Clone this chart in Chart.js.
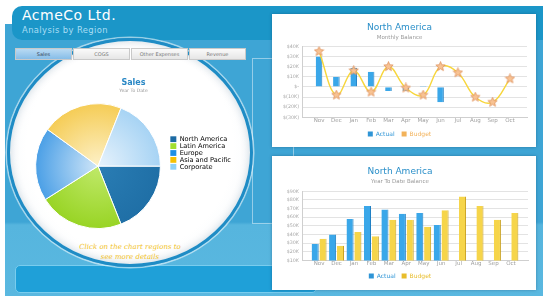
<!DOCTYPE html>
<html>
<head>
<meta charset="utf-8">
<script src="https://cdn.jsdelivr.net/npm/chart.js@4.4.1/dist/chart.umd.min.js"></script>
<style>
  html, body { margin: 0; padding: 0; width: 543px; height: 296px; overflow: hidden; background: #fff; font-family: "DejaVu Sans", sans-serif; }
  .abs { position: absolute; }
  #bg { left: 5px; top: 24px; width: 538px; height: 272px; background: linear-gradient(#3ea5d5 0, #3ea5d5 198px, #56b5de 201px, #5ab8e0 100%); }
  #head { left: 12px; top: 6px; width: 531px; height: 34px; background: #1b96c8; border-radius: 10px 0 0 10px; }
  #head .t1 { position: absolute; left: 10px; top: 1px; color: #fff; font-size: 14px; letter-spacing: 0.5px; }
  #head .t2 { position: absolute; left: 10px; top: 19px; color: #a9def5; font-size: 8.4px; letter-spacing: 0.4px; }
  #tabs { left: 15px; top: 48px; height: 11px; display: flex; z-index: 5; }
  #tabs div { width: 55px; height: 10px; margin-right: 1px; background: linear-gradient(#fafafa, #e6e6e6); border: 0.5px solid #c9c9c9; font-size: 5px; line-height: 10px; text-align: center; color: #777; }
  #tabs div.on { background: linear-gradient(#b9daf3, #86bde8); color: #345; }
  #box { left: 252px; top: 58px; width: 40px; height: 164px; border: 1px solid rgba(255,255,255,0.45); }
  #circle { left: 7px; top: 38px; width: 240px; height: 223px; border-radius: 50%; border: 3px solid #1f8cc5;
            background: radial-gradient(circle at 50% 48%, #ffffff 0, #ffffff 62%, #edf3f7 100%);
            box-shadow: 0 0 0 1.5px rgba(255,255,255,0.55), inset 0 0 8px rgba(0,60,100,0.2); z-index: 2; }
  #hint { left: 30px; top: 242px; width: 200px; text-align: center; z-index: 3; color: #f2c11c; font-family: "DejaVu Serif", serif; font-style: italic; font-size: 7px; line-height: 10px; }
  #footer { left: 15px; top: 265px; width: 300px; height: 26px; background: #1fa0d8; border: 1px solid #79cdee; border-radius: 5px; }
  .panel { background: #fff; box-shadow: 0 0 3px rgba(0,40,80,0.35); z-index: 4; }
  #p1 { left: 272px; top: 14px; width: 264px; height: 133px; }
  #p2 { left: 272px; top: 156px; width: 264px; height: 134px; }
  #pieWrap { left: 20px; top: 74px; width: 221px; height: 156px; z-index: 3; }
</style>
</head>
<body>
<div id="bg" class="abs"></div>
<div id="head" class="abs"><div class="t1">AcmeCo Ltd.</div><div class="t2">Analysis by Region</div></div>
<div id="box" class="abs"></div>
<div id="footer" class="abs"></div>
<div id="circle" class="abs"></div>
<div id="tabs" class="abs"><div class="on">Sales</div><div>COGS</div><div>Other Expenses</div><div>Revenue</div></div>
<div id="pieWrap" class="abs"><canvas id="pie" width="221" height="156"></canvas></div>
<div id="hint" class="abs">Click on the chart regions to<br>see more details</div>
<div id="p1" class="abs panel"><canvas id="monthly" width="264" height="133"></canvas></div>
<div id="p2" class="abs panel"><canvas id="ytd" width="264" height="134"></canvas></div>

<script>
// ---- data ($K) ----
const regions = ['North America', 'Latin America', 'Europe', 'Asia and Pacific', 'Corporate'];
const regionSales = [19, 22, 19, 21, 19];

const months = ['Nov', 'Dec', 'Jan', 'Feb', 'Mar', 'Apr', 'May', 'Jun', 'Jul', 'Aug', 'Sep', 'Oct'];
const monthlyActual = [30, 10, 19, 15, -4, -4, 1, -15, null, null, null, null];
const monthlyBudget = [35, -8, 16, -5, 20, -1, -8, 20, 14, -10, -15, 8];
const monthlyTicks = [-30, -20, -10, 0, 10, 20, 30, 40];

const ytdActual = [29, 40, 58, 73, 69, 64, 65, 51, null, null, null, null];
const ytdBudget = [35, 27, 43, 38, 57, 57, 49, 68, 84, 73, 57, 65];
const ytdTicks = [10, 20, 30, 40, 50, 60, 70, 80, 90];

// ---- look ----
const FONT = '"DejaVu Sans", sans-serif';
Chart.defaults.font.family = FONT;
Chart.defaults.animation = false;

const pieInner = ['#2a7db4', '#c0e96a', '#d0e6f8', '#fdf1c8', '#e8f3fc'];
const pieOuter = ['#1f6fa6', '#98d424', '#4a9fe6', '#f5cc55', '#a6d3f4'];
const pieLegend = ['#1c6aa3', '#a2de2e', '#1e8fe6', '#f6c104', '#8fd1f6'];
const BLUE = '#3aa7e9';
const YELLOW = '#f6d54a';

const fmtK = v => v === 0 ? '$-' : (v < 0 ? '$(' + (-v) + 'K)' : '$' + v + 'K');
const toPoints = arr => arr.map((v, i) => ({ x: i, y: v }));

function makeStar(size, fill, stroke) {
  const c = document.createElement('canvas');
  c.width = c.height = size;
  const g = c.getContext('2d');
  const ro = size / 2 - 0.6, ri = ro * 0.45;
  g.beginPath();
  for (let i = 0; i < 10; i++) {
    const r = i % 2 ? ri : ro;
    const a = -Math.PI / 2 + i * Math.PI / 5;
    g.lineTo(size / 2 + r * Math.cos(a), size / 2 + r * Math.sin(a));
  }
  g.closePath();
  g.fillStyle = fill; g.fill();
  g.strokeStyle = stroke; g.lineWidth = 0.8; g.stroke();
  return c;
}
const star = makeStar(11, '#f8c394', '#e0915a');

// shared x axis: linear so months sit inset like the original
function monthAxis() {
  return {
    type: 'linear', min: -0.98, max: 11.98, offset: false,
    afterBuildTicks: s => { s.ticks = months.map((m, i) => ({ value: i })); },
    grid: { display: false, drawTicks: false },
    border: { color: '#cfcfcf' },
    ticks: { callback: v => months[v], color: '#a0a0a0', font: { size: 5.5 }, padding: 0, maxRotation: 0, autoSkip: false }
  };
}
function moneyAxis(ticks) {
  return {
    min: ticks[0], max: ticks[ticks.length - 1],
    afterBuildTicks: s => { s.ticks = ticks.map(v => ({ value: v })); },
    afterFit: s => { s.width = 30; },
    grid: { color: '#dcdcdc', lineWidth: 0.8, drawTicks: false },
    border: { color: '#cfcfcf' },
    ticks: { callback: fmtK, color: '#a8a8a8', font: { size: 4.8 }, padding: 3, autoSkip: false }
  };
}
function barLegend(pad) {
  return {
    position: 'bottom',
    labels: {
      boxWidth: 5, boxHeight: 5, padding: pad, font: { size: 6 },
      generateLabels: chart => chart.data.datasets.map((d, i) => ({
        text: d.label, fillStyle: d.legendColor, strokeStyle: d.legendColor, lineWidth: 0,
        fontColor: d.legendColor, datasetIndex: i, hidden: false
      }))
    }
  };
}

// ---- pie ----
new Chart(document.getElementById('pie'), {
  type: 'pie',
  data: {
    labels: regions,
    datasets: [{
      data: regionSales,
      backgroundColor: ctx => {
        const area = ctx.chart.chartArea;
        if (!area) return pieOuter[ctx.dataIndex];
        const cx = (area.left + area.right) / 2, cy = (area.top + area.bottom) / 2;
        const r = Math.min(area.right - area.left, area.bottom - area.top) / 2;
        const g = ctx.chart.ctx.createRadialGradient(cx, cy, 0, cx, cy, r);
        g.addColorStop(0, pieInner[ctx.dataIndex]);
        g.addColorStop(1, pieOuter[ctx.dataIndex]);
        return g;
      },
      borderColor: '#ffffff',
      borderWidth: 1
    }]
  },
  options: {
    responsive: false,
    rotation: 90,
    layout: { padding: { left: 6, top: 3, bottom: 1 } },
    plugins: {
      title: { display: true, text: 'Sales', color: '#2a88c5', font: { size: 8, weight: 'bold' }, padding: { top: 1, bottom: 0 } },
      subtitle: { display: true, text: 'Year To Date', color: '#999', font: { size: 4.6, lineHeight: 1 }, padding: { top: 1, bottom: 10 } },
      legend: {
        position: 'right',
        labels: {
          boxWidth: 6, boxHeight: 5.8, padding: 0.3, color: '#707070', font: { size: 6.6, lineHeight: 0.9 },
          generateLabels: chart => chart.data.labels.map((t, i) => ({
            text: t, fillStyle: pieLegend[i], strokeStyle: pieLegend[i], lineWidth: 0, index: i, hidden: false
          }))
        }
      },
      tooltip: { enabled: false }
    }
  }
});

// ---- monthly balance ----
new Chart(document.getElementById('monthly'), {
  data: {
    datasets: [
      {
        type: 'line', label: 'Budget', data: toPoints(monthlyBudget), legendColor: '#f2b25a',
        borderColor: '#f7d63c', borderWidth: 1.4, tension: 0.4,
        pointStyle: star, backgroundColor: '#f7d63c', order: 0
      },
      {
        type: 'bar', label: 'Actual', data: toPoints(monthlyActual), legendColor: '#2f95d6',
        backgroundColor: BLUE, borderColor: '#2180c4', borderWidth: { right: 1 },
        categoryPercentage: 1, barPercentage: 0.38, order: 1
      }
    ]
  },
  options: {
    responsive: false,
    layout: { padding: { left: 0, right: 9, bottom: 0 } },
    scales: { x: monthAxis(), y: moneyAxis(monthlyTicks) },
    plugins: {
      title: { display: true, text: 'North America', color: '#2a8fc9', font: { size: 9, weight: 'normal' }, padding: { top: 8, bottom: 0 } },
      subtitle: { display: true, text: 'Monthly Balance', color: '#9a9a9a', font: { size: 5.5, lineHeight: 1 }, padding: { top: 2, bottom: 6 } },
      legend: Object.assign(barLegend(7), { reverse: true }),
      tooltip: { enabled: false }
    }
  }
});

// ---- year to date balance ----
new Chart(document.getElementById('ytd'), {
  type: 'bar',
  data: {
    datasets: [
      {
        label: 'Actual', data: toPoints(ytdActual), legendColor: '#2f95d6',
        backgroundColor: BLUE, borderColor: '#2180c4', borderWidth: { right: 1 },
        categoryPercentage: 0.9, barPercentage: 0.9
      },
      {
        label: 'Budget', data: toPoints(ytdBudget), legendColor: '#e8bd2c',
        backgroundColor: YELLOW, borderColor: '#c9a11e', borderWidth: { right: 1 },
        categoryPercentage: 0.9, barPercentage: 0.9
      }
    ]
  },
  options: {
    responsive: false,
    layout: { padding: { left: 0, right: 8, bottom: 1 } },
    scales: { x: monthAxis(), y: moneyAxis(ytdTicks) },
    plugins: {
      title: { display: true, text: 'North America', color: '#2a8fc9', font: { size: 9, weight: 'normal' }, padding: { top: 10, bottom: 0 } },
      subtitle: { display: true, text: 'Year To Date Balance', color: '#9a9a9a', font: { size: 5.5, lineHeight: 1 }, padding: { top: 2, bottom: 7 } },
      legend: barLegend(6),
      tooltip: { enabled: false }
    }
  }
});
</script>
</body>
</html>
